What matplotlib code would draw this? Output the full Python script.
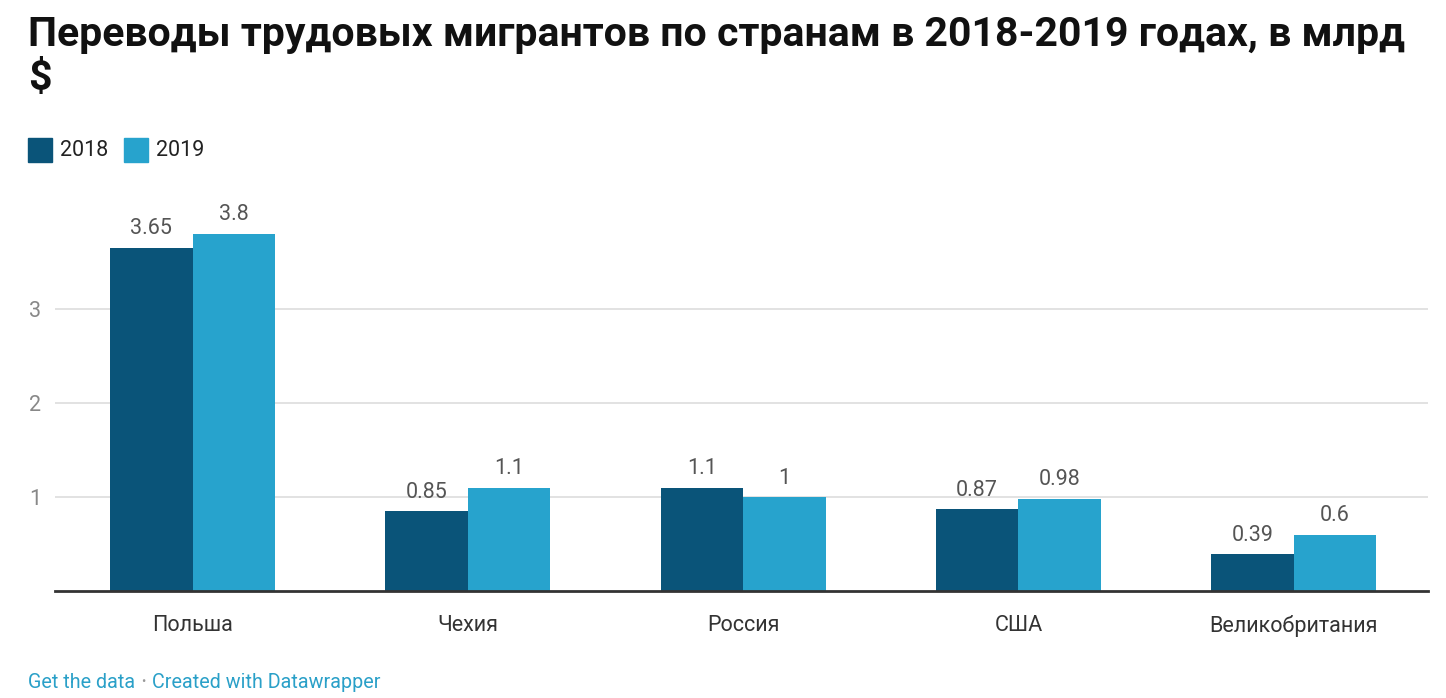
import matplotlib.pyplot as plt
import numpy as np

plt.rcParams["font.family"] = ["Roboto", "DejaVu Sans"]

countries = ["Польша", "Чехия", "Россия", "США", "Великобритания"]
values_2018 = [3.65, 0.85, 1.1, 0.87, 0.39]
values_2019 = [3.8, 1.1, 1.0, 0.98, 0.6]
labels_2018 = ["3.65", "0.85", "1.1", "0.87", "0.39"]
labels_2019 = ["3.8", "1.1", "1", "0.98", "0.6"]
y_ticks = [1, 2, 3]

color_2018 = "#0a5479"
color_2019 = "#27a3cd"

fig = plt.figure(figsize=(14.46, 6.98), dpi=100)
ax = fig.add_axes([0.038, 0.1533, 0.9496, 0.566])

x = np.arange(len(countries))
w = 0.3
bars1 = ax.bar(x - w / 2, values_2018, w, color=color_2018, zorder=2)
bars2 = ax.bar(x + w / 2, values_2019, w, color=color_2019, zorder=2)

for bars, labels in [(bars1, labels_2018), (bars2, labels_2019)]:
    for b, lab in zip(bars, labels):
        ax.annotate(lab, (b.get_x() + b.get_width() / 2, b.get_height()),
                    xytext=(0, 6), textcoords="offset points",
                    ha="center", va="bottom", fontsize=15.5, color="#555555")

ax.set_xlim(-0.5, 4.488)
ax.set_ylim(0, 4.2)
ax.set_yticks(y_ticks)
ax.set_yticklabels([str(t) for t in y_ticks])
ax.set_xticks(x)
ax.set_xticklabels(countries)
ax.tick_params(axis="y", length=0, pad=10, labelsize=15.5, labelcolor="#888888")
ax.tick_params(axis="x", length=0, pad=17, labelsize=15.5, labelcolor="#333333")
for lab in ax.get_yticklabels():
    lab.set_horizontalalignment("right")

ax.grid(axis="y", color="#dddddd", linewidth=1.2, zorder=0)
for s in ["top", "right", "left"]:
    ax.spines[s].set_visible(False)
ax.spines["bottom"].set_color("#333333")
ax.spines["bottom"].set_linewidth(2)
ax.spines["bottom"].set_zorder(3)

fig.text(28 / 1446, 1 - 16 / 698,
         "Переводы трудовых мигрантов по странам в 2018-2019 годах, в млрд\n$",
         fontsize=29.5, fontweight="bold", color="#111111", va="top", ha="left",
         linespacing=1.2)

# legend
fig.patches.append(plt.Rectangle((28 / 1446, 1 - 162 / 698), 24 / 1446, 24 / 698,
                                 transform=fig.transFigure, color=color_2018))
fig.text(60 / 1446, 1 - 151 / 698, "2018", fontsize=15.5, color="#222222", va="center")
fig.patches.append(plt.Rectangle((124 / 1446, 1 - 162 / 698), 24 / 1446, 24 / 698,
                                 transform=fig.transFigure, color=color_2019))
fig.text(156 / 1446, 1 - 151 / 698, "2019", fontsize=15.5, color="#222222", va="center")

fig.text(28 / 1446, 1 - 682 / 698, "Get the data", fontsize=14.2, color="#2aa0c8", va="center")
fig.text(143 / 1446, 1 - 682 / 698, "•", fontsize=9, color="#999999", va="center", ha="center")
fig.text(152 / 1446, 1 - 682 / 698, "Created with Datawrapper", fontsize=14.2,
         color="#2aa0c8", va="center")

fig.savefig("out.png", dpi=100)
